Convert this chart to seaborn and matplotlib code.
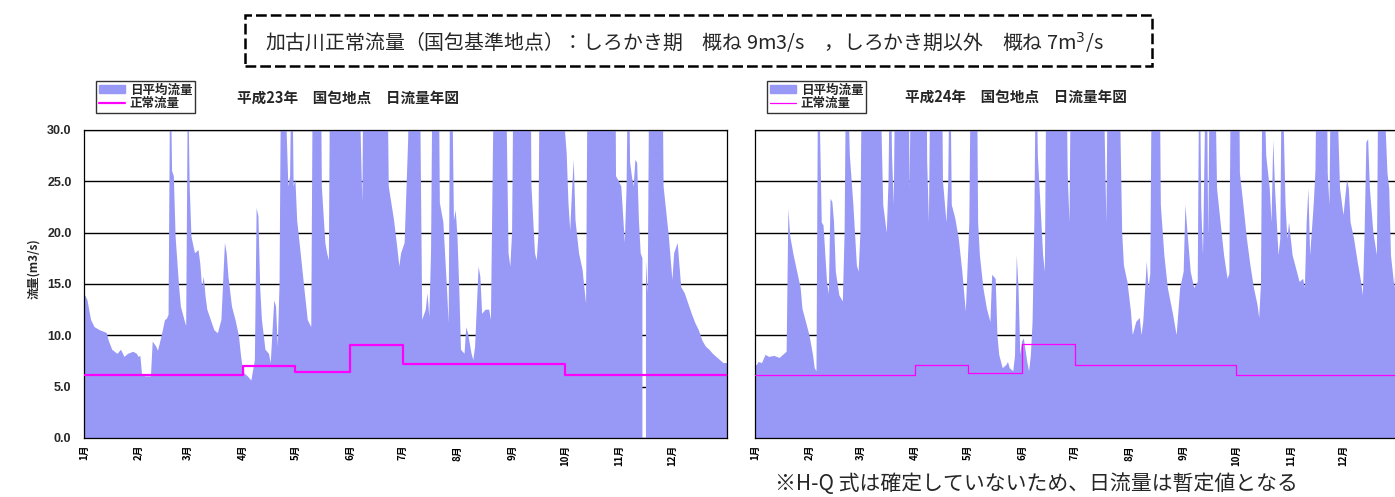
import numpy as np
import pandas as pd
import seaborn as sns
import matplotlib.pyplot as plt
from matplotlib.patches import Patch, Rectangle
from matplotlib.lines import Line2D

nan = np.nan

# 平成23年 daily mean flow (m3/s), read at key days (day 0 = 1 Jan); >30 is off the chart
h23_day = [0, 1, 2, 4, 6, 9, 12, 13, 14, 16, 19, 21, 23, 25, 28, 30,
           31, 32, 33, 35, 38, 39, 41, 42, 44, 46, 47, 48, 49, 50, 51, 52, 54, 55, 57, 58,
           59, 60, 61, 63, 65, 66, 67, 68, 69, 70, 72, 74, 76, 78, 80, 81, 82, 84, 86, 88, 89,
           90, 91, 93, 95, 97, 98, 99, 100, 101, 103, 105, 106, 108, 109, 110, 111, 112, 114, 115, 116, 117, 118, 119,
           120, 121, 123, 125, 127, 129, 130, 134, 135, 137, 138, 139, 140, 148,
           156, 157, 158, 159, 166, 172, 173, 176, 178, 179, 180,
           182, 184, 185, 186, 190, 191, 192, 194, 195, 196, 197, 198, 201, 202, 204, 206, 207, 208, 209, 210, 211,
           212, 213, 214, 216, 217, 218, 220, 221, 222, 224, 225, 226, 228, 230, 231, 232, 233, 239, 240, 241, 242,
           243, 244, 253, 254, 256, 257, 258, 259, 272,
           273, 274, 275, 276, 277, 278, 279, 281, 283, 284, 285, 286, 301, 302, 303,
           305, 307, 308, 309, 310, 311, 312, 313, 314, 315, 316, 317, 318, 319, 320, 321, 328, 329, 332,
           334, 335, 337, 339, 341, 343, 345, 347, 349, 351, 353, 355, 357, 359, 361, 363, 365]
h23_flow = [14.0, 13.8, 13.4, 11.5, 10.8, 10.5, 10.3, 10.2, 9.5, 8.6, 8.2, 8.6, 7.9, 8.2, 8.4, 8.2,
            7.9, 8.0, 6.1, 6.0, 6.0, 9.4, 8.9, 8.5, 9.9, 11.5, 11.6, 12.0, 38, 26.0, 25.5, 19.6, 14.7, 12.8, 11.5, 10.9,
            36, 24.5, 19.6, 18.0, 18.3, 17.0, 14.7, 15.7, 13.8, 12.5, 11.5, 10.5, 10.2, 11.5, 19.0, 18.0, 15.7, 12.8, 11.5, 9.9, 8.2,
            6.9, 6.3, 6.0, 5.6, 7.6, 22.4, 21.6, 14.7, 11.5, 8.6, 8.2, 7.3, 13.4, 12.8, 8.9, 15, 40, 45, 30, 24.5, 25.5, 40, 24.5,
            25.2, 21.2, 18.0, 14.7, 11.5, 10.8, 40, 50, 24.5, 19.0, 18.0, 17.3, 45, 60,
            45, 30, 22.9, 45, 70, 40, 24.5, 21.2, 18.3, 16.7, 18.0,
            19.0, 29.0, 40, 50, 45, 30, 11.5, 12.5, 14.1, 11.8, 18, 40, 45, 22.9, 21, 14.7, 11.2, 40, 35, 21.2, 22.2,
            19.6, 14.7, 8.6, 8.2, 10.8, 10.2, 8.2, 7.6, 8.9, 16.7, 15.7, 12.1, 12.5, 12.5, 11.5, 26.1, 40, 45, 30, 18, 16.7,
            20, 40, 50, 24.5, 18.0, 17.3, 20, 45, 55,
            30, 27.7, 22.9, 20.2, 24, 27.1, 21.2, 18, 16.4, 14.7, 13.1, 40, 60, 25.5, 25.2,
            24.5, 19, 24.5, 40, 26.8, 25.5, 24.5, 27.1, 26.8, 21.2, 18, 17.5, nan, 17.3, 14.1, 40, 45, 24.5, 19.6,
            15.4, 18, 19, 14.7, 14.1, 13.1, 12.1, 11.2, 10.5, 9.5, 8.9, 8.6, 8.2, 7.9, 7.6, 7.3, 7.3]

# 平成24年 daily mean flow (m3/s)
h24_day = [0, 1, 2, 4, 6, 8, 11, 14, 16, 18, 19, 20, 22, 24, 26, 27, 29,
           31, 33, 34, 35, 36, 37, 38, 39, 41, 42, 43, 44, 45, 46, 48, 50, 51, 52, 54, 56, 58, 59,
           60, 61, 71, 72, 73, 75, 76, 77, 78, 79, 80, 87, 88, 89,
           97, 98, 99, 100, 106, 107, 109, 110, 111, 112, 114, 116, 118, 120,
           122, 123, 126, 127, 128, 130, 132, 134, 135, 137, 138, 139, 141, 143, 144, 145, 147, 148, 149, 150, 151,
           152, 153, 155, 156, 157, 158, 159, 160, 161, 162, 164, 165, 166, 172, 177, 178, 179, 180, 181,
           198, 199, 200, 201, 207, 208, 209, 210, 212,
           214, 215, 217, 219, 220, 221, 223, 224, 225, 226, 230, 231, 233, 235, 238, 240, 242,
           244, 245, 246, 248, 250, 252, 253, 254, 255, 257, 258, 259, 261, 263, 265, 267, 269, 270, 271,
           275, 276, 278, 280, 282, 284, 286, 287, 288, 289, 291, 293, 294, 295, 296, 298, 299, 300, 301, 302, 303, 304,
           306, 308, 310, 312, 313, 314, 315, 316, 318, 319, 320, 325, 326, 327, 328, 331, 332, 333,
           335, 337, 338, 339, 341, 343, 345, 346, 347, 348, 349, 350, 352, 354, 355, 358, 359, 360, 361, 362, 364, 366]
h24_flow = [7.1, 7.1, 7.4, 7.3, 8.1, 7.9, 8.0, 7.8, 8.1, 8.4, 22.3, 19.7, 17.8, 16.2, 14.6, 12.6, 11.3,
            10.0, 8.1, 6.8, 6.5, 40, 30, 21, 20.7, 15.2, 14, 23.3, 23, 21, 16.2, 13.9, 13.3, 20, 40, 27.5, 22.7, 16.8, 16.2,
            20, 40, 55, 30, 22.7, 20, 25, 40, 27.5, 22.7, 40, 45, 24.3, 40,
            50, 27, 21, 40, 45, 25, 21, 25, 40, 22.7, 21.4, 19.4, 16.2, 12.3,
            21, 40, 45, 21, 17.8, 14.6, 12.6, 11.3, 15.9, 15.5, 10, 8.1, 6.8, 7.1, 7.4, 6.8, 6.5, 8, 17.8, 14.6, 8.1,
            9.4, 9.7, 7.4, 6.5, 8, 11.3, 21, 40, 27.5, 24.3, 17.8, 16.2, 40, 60, 40, 25.8, 21, 40, 45,
            60, 30, 21, 40, 45, 30, 20, 16.8, 15.2,
            12.3, 10, 11.3, 11.7, 10, 11.3, 17.2, 14.6, 16, 40, 45, 22.7, 17.8, 14.6, 12, 10, 14.6,
            16.2, 22.7, 20.4, 16.2, 14.6, 15.2, 40, 22.7, 17.8, 40, 19.4, 40, 45, 24.3, 21, 17.8, 15.5, 16, 40,
            50, 25.8, 22.7, 19.4, 16.8, 14.6, 13, 11.7, 15, 40, 27.5, 24.3, 21, 29, 24.3, 17.8, 19.4, 40, 30, 22.7, 19.4, 21,
            17.8, 16.5, 15.2, 15.5, 14.6, 21, 24.3, 17.8, 22.7, 26, 40, 45, 25.8, 22.7, 40, 45, 30, 24.3,
            21.7, 25.2, 24.3, 21, 19.4, 17.2, 15.2, 13.9, 20, 28.8, 29.1, 24.3, 20, 17.8, 40, 45, 30, 25.8, 24.3, 17.8, 14.6, 25]

# 正常流量 by month
months = ["1月", "2月", "3月", "4月", "5月", "6月", "7月", "8月", "9月", "10月", "11月", "12月"]
h23_month_start = [0, 31, 59, 90, 120, 151, 181, 212, 243, 273, 304, 334]
h23_normal = [6.1, 6.1, 6.1, 7.0, 6.4, 9.1, 7.2, 7.2, 7.2, 6.1, 6.1, 6.1]
h24_month_start = [0, 31, 60, 91, 121, 152, 182, 213, 244, 274, 305, 335]
h24_normal = [6.1, 6.1, 6.1, 7.1, 6.3, 9.2, 7.1, 7.1, 7.1, 6.1, 6.1, 6.1]

fill_color = "#9898f6"
line_color = "#ff00ff"

sns.set_style("white")
plt.rcParams["font.family"] = ["Noto Sans CJK JP", "DejaVu Sans"]

fig = plt.figure(figsize=(13.95, 4.97), dpi=100)
ax1 = fig.add_axes([84 / 1395, 1 - 438 / 497, 643 / 1395, 308 / 497])
ax2 = fig.add_axes([755 / 1395, 1 - 438 / 497, 643 / 1395, 308 / 497])


def draw_panel(ax, day, flow, month_start, normal, year_len, lw, show_y):
    ax.fill_between(np.array(day, dtype=float), 0, np.array(flow, dtype=float),
                    color=fill_color, lw=0, zorder=1)
    step = pd.DataFrame({"day": month_start + [year_len], "flow": normal + [normal[-1]]})
    sns.lineplot(data=step, x="day", y="flow", estimator=None, drawstyle="steps-post",
                 color=line_color, lw=lw, ax=ax, zorder=3)
    ax.set_xlim(0, year_len)
    ax.set_ylim(0, 30)
    ax.set_yticks(np.arange(0, 31, 5))
    ax.yaxis.grid(True, color="black", lw=1.0)
    ax.set_axisbelow(True)
    ax.set_xticks(month_start)
    ax.set_xticklabels(months, rotation=90, fontsize=7, fontweight="bold", va="top")
    ax.tick_params(axis="x", direction="in", length=4, width=0.8, pad=5, colors="black")
    ax.tick_params(axis="y", direction="in", length=4, width=0.8, pad=9)
    if show_y:
        ax.set_yticklabels([f"{v:.1f}" for v in np.arange(0, 31, 5)],
                           fontsize=9, fontweight="bold", family="Liberation Sans")
        ax.set_ylabel("流量(m3/s)", fontsize=8.5, fontweight="bold")
        ax.yaxis.set_label_coords(-44 / 643, 0.55)
    else:
        ax.set_yticklabels([])
        ax.set_ylabel("")
    ax.set_xlabel("")
    for s in ax.spines.values():
        s.set_color("black")
        s.set_linewidth(0.9)
    handles = [Patch(facecolor=fill_color, edgecolor=fill_color),
               Line2D([], [], color=line_color, lw=lw)]
    leg = ax.legend(handles, ["日平均流量", "正常流量"], loc="upper left",
                    bbox_to_anchor=(0.0187, 1.159), borderaxespad=0, frameon=True,
                    fancybox=False, handlelength=2.1, handleheight=0.6,
                    prop={"size": 9, "weight": "bold"},
                    borderpad=0.2, labelspacing=0.05, handletextpad=0.4)
    leg.get_frame().set_edgecolor("black")
    leg.get_frame().set_linewidth(1.0)


draw_panel(ax1, h23_day, h23_flow, h23_month_start, h23_normal, 365, 1.6, True)
draw_panel(ax2, h24_day, h24_flow, h24_month_start, h24_normal, 366, 0.9, False)

fig.text(237 / 1395, 1 - 98 / 497, "平成23年　国包地点　日流量年図",
         fontsize=10.5, fontweight="bold", ha="left", va="center")
fig.text(905 / 1395, 1 - 97 / 497, "平成24年　国包地点　日流量年図",
         fontsize=10.5, fontweight="bold", ha="left", va="center")

fig.patches.append(Rectangle((245 / 1395, 1 - 66 / 497), (1152 - 245) / 1395, 51 / 497,
                             transform=fig.transFigure, fill=False, edgecolor="black",
                             lw=1.8, linestyle=(0, (4.3, 1.6))))
fig.text(265 / 1395, 1 - 43 / 497,
         "加古川正常流量（国包基準地点）：しろかき期　概ね 9m3/s　，しろかき期以外　概ね 7m$^3$/s",
         fontsize=14.3, ha="left", va="center")

fig.text(775 / 1395, 1 - 484 / 497, "※H-Q 式は確定していないため、日流量は暫定値となる",
         fontsize=15, ha="left", va="center")

fig.savefig("out.png", dpi=100)
